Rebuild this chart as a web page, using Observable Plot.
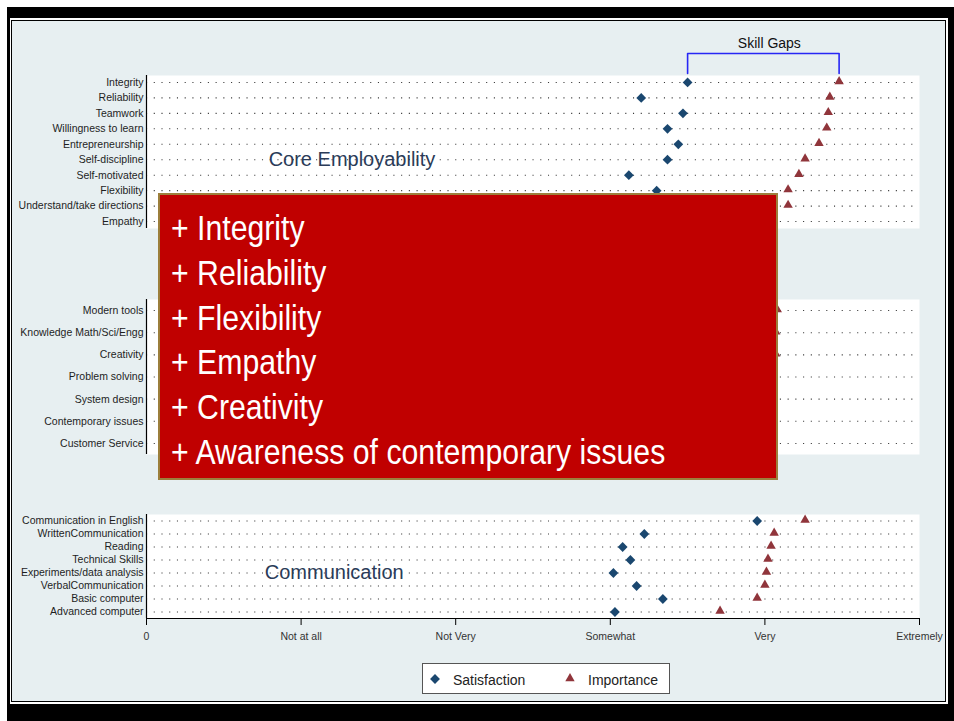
<!DOCTYPE html>
<html><head><meta charset="utf-8">
<script src="https://cdn.jsdelivr.net/npm/d3@7"></script>
<script src="https://cdn.jsdelivr.net/npm/@observablehq/plot@0.6"></script>
<style>
html,body{margin:0;padding:0;background:#fff;}
#root{position:relative;width:954px;height:721px;overflow:hidden;font-family:"Liberation Sans",Arial,sans-serif;}
#root svg{position:absolute;left:0;}
</style></head><body><div id="root"></div>
<script>
// ---------- data ----------
const coreSkills = ["Integrity","Reliability","Teamwork","Willingness to learn","Entrepreneurship","Self-discipline","Self-motivated","Flexibility","Understand/take directions","Empathy"];
const coreSatisfaction = [3.50,3.20,3.47,3.37,3.44,3.37,3.12,3.30,3.25,3.05];
const coreImportance   = [4.48,4.42,4.41,4.40,4.35,4.26,4.22,4.15,4.15,3.98];

const engSkills = ["Modern tools","Knowledge Math/Sci/Engg","Creativity","Problem solving","System design","Contemporary issues","Customer Service"];
const engSatisfaction = [3.30,3.35,3.05,3.25,3.10,2.95,3.15];
const engImportance   = [4.08,4.07,4.07,3.98,3.92,3.80,3.90];

const commSkills = ["Communication in English","WrittenCommunication","Reading","Technical Skills","Experiments/data analysis","VerbalCommunication","Basic computer","Advanced computer"];
const commSatisfaction = [3.95,3.22,3.08,3.13,3.02,3.17,3.34,3.03];
const commImportance   = [4.26,4.06,4.04,4.02,4.01,4.00,3.95,3.71];

const tickValues = [0,1,2,3,4,5];
const tickLabels = ["0","Not at all","Not Very","Somewhat","Very","Extremely"];

const seriesNames = ["Satisfaction","Importance"];
const boxItems = ["Integrity","Reliability","Flexibility","Empathy","Creativity","Awareness of contemporary issues"];
const gapTitle = "Skill Gaps";

// ---------- style ----------
const FONT = '"Liberation Sans", Arial, sans-serif';
const NAVY = "#1a476f", MAROON = "#90353b";
const root = document.getElementById("root");

function box(css){ const d=document.createElement("div"); d.style.position="absolute"; Object.assign(d.style,css); root.appendChild(d); return d; }

// frame
box({left:"7px",top:"7px",width:"947px",height:"714px",background:"#000"});
box({left:"10px",top:"18px",width:"938px",height:"686px",background:"#fff"});
box({left:"11px",top:"20px",width:"935px",height:"682px",background:"#e7eff1",border:"1.6px solid #000",boxSizing:"border-box"});

function panel({names, sat, imp, top, pad, height, marginBottom=0, xAxis=false, note, noteX, noteRow}){
  const rows = names.map((n,i)=>({i, sat:sat[i], imp:imp[i]}));
  const idx = names.map((_,i)=>i);
  const n = names.length;
  const marks = [
    Plot.frame({fill:"white", stroke:null}),
    Plot.gridY(idx, {stroke:"#3a3a3a", strokeOpacity:1, strokeWidth:1.1, strokeDasharray:"1.1,6.63"}),
    Plot.ruleX([0], {stroke:"#000", strokeWidth:1.2}),
    Plot.axisY(idx, {tickSize:0, tickPadding:3, tickFormat:i=>names[i], fontSize:10.5, fill:"#1e1e1e", label:null}),
  ];
  if (note) marks.push(Plot.text([note], {x:()=>noteX, y:()=>noteRow, text:d=>d, textAnchor:"start", fontSize:20, fill:"#2a3b58", fontFamily:FONT}));
  marks.push(
    Plot.dot(rows, {x:"sat", y:"i", symbol:"diamond2", r:4.4, fill:NAVY, stroke:null}),
    Plot.dot(rows, {x:"imp", y:"i", symbol:"triangle", r:3.5, fill:MAROON, stroke:null, dy:-1})
  );
  if (xAxis){
    marks.push(
      Plot.ruleY([n-1+pad], {stroke:"#000", strokeWidth:1.2}),
      Plot.axisX(tickValues, {tickFormat:v=>tickLabels[v], tickSize:7, tickPadding:7, fontSize:10.5, fill:"#333", stroke:"#000", label:null})
    );
  }
  const el = Plot.plot({
    width:954, height, marginLeft:146, marginRight:35, marginTop:0, marginBottom,
    x:{domain:[0,5], axis:null, label:null},
    y:{domain:[-pad, n-1+pad], reverse:true, axis:null, label:null},
    style:{background:"transparent", fontFamily:FONT, color:"#222", overflow:"visible"},
    marks
  });
  el.style.top = top+"px";
  root.appendChild(el);
}

panel({names:coreSkills, sat:coreSatisfaction, imp:coreImportance, top:75, pad:0.45, height:153,
       note:"Core Employability", noteX:0.79, noteRow:5});
panel({names:engSkills, sat:engSatisfaction, imp:engImportance, top:299, pad:0.5, height:155});
panel({names:commSkills, sat:commSatisfaction, imp:commImportance, top:514, pad:0.5, height:134, marginBottom:30, xAxis:true,
       note:"Communication", noteX:0.765, noteRow:4});

// skill gap bracket (Integrity satisfaction -> importance)
{
  const s = coreSatisfaction[0], im = coreImportance[0];
  const pts = [{x:s,y:0},{x:s,y:1},{x:im,y:1},{x:im,y:0}];
  const el = Plot.plot({
    width:954, height:45, marginLeft:146, marginRight:35, marginTop:0, marginBottom:0,
    x:{domain:[0,5], axis:null}, y:{domain:[0,1], range:[43,23], axis:null},
    style:{background:"transparent", fontFamily:FONT, overflow:"visible"},
    marks:[
      Plot.line(pts, {x:"x", y:"y", stroke:"#2727f5", strokeWidth:1.6}),
      Plot.text([gapTitle], {x:()=>(s+im)/2, y:()=>1, text:d=>d, dy:-10, dx:6, fontSize:14, fill:"#111", fontFamily:FONT})
    ]
  });
  el.style.top = "30px";
  root.appendChild(el);
}

// red overlay box
{
  box({left:"158px",top:"193px",width:"620px",height:"287px",background:"#c00000",border:"2px solid #9c7f3c",boxSizing:"border-box"});
  const svg = d3.select(root).append("svg").attr("width",954).attr("height",721).style("top","0px").style("pointer-events","none");
  svg.selectAll("text").data(boxItems).join("text")
    .attr("transform",(d,k)=>`translate(171,${240+44.8*k}) scale(0.84,1)`)
    .attr("fill","#fff").attr("font-family",FONT).attr("font-size",36)
    .text(d=>"+ "+d);
}

// legend
{
  box({left:"422px",top:"663px",width:"248px",height:"31px",background:"#fff",border:"1px solid #555",boxSizing:"border-box"});
  const svg = d3.select(root).append("svg").attr("width",954).attr("height",721).style("top","0px");
  svg.append("path").attr("d",d3.symbol(d3.symbolDiamond2, 62)()).attr("transform","translate(435,679)").attr("fill",NAVY);
  svg.append("path").attr("d",d3.symbol(d3.symbolTriangle, 38)()).attr("transform","translate(570,678.5)").attr("fill",MAROON);
  svg.selectAll("text.lg").data(seriesNames).join("text").attr("class","lg")
    .attr("x",(d,k)=>[453,588][k]).attr("y",684.5)
    .attr("font-family",FONT).attr("font-size",14).attr("fill","#222").text(d=>d);
}
</script></body></html>
